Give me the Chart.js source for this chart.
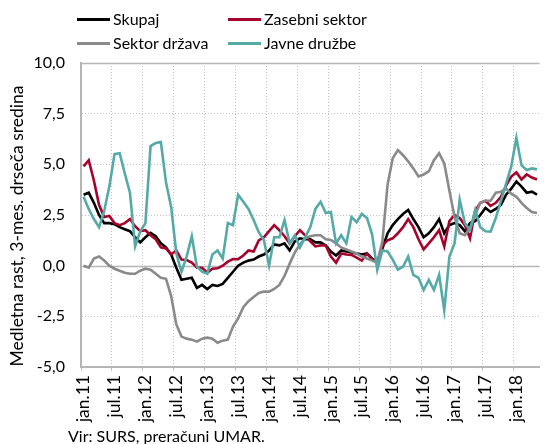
<!DOCTYPE html>
<html>
<head>
<meta charset="utf-8">
<script src="https://cdn.jsdelivr.net/npm/chart.js@4/dist/chart.umd.min.js"></script>
<style>
  html, body { margin:0; padding:0; background:#fff; overflow:hidden; width:559px; height:444px; }
  #wrap { position:relative; width:559px; height:444px; overflow:hidden; font-family: Lato, "Open Sans", sans-serif; color:#000; }
  canvas { position:absolute; left:0; top:0; }
  .leg { position:absolute; font-size:16px; line-height:16px; white-space:nowrap; }
  .leg span.sw { display:inline-block; width:33px; height:3px; vertical-align:middle; margin-right:3px; position:relative; top:-1px; }
  #ytitle { position:absolute; left:-158px; top:216px; width:350px; height:20px; line-height:20px; text-align:center;
            transform: rotate(-90deg); transform-origin: 50% 50%; font-size:17.5px; white-space:nowrap; }
  #src { position:absolute; left:68px; top:426px; font-size:16px; white-space:nowrap; }
</style>
</head>
<body>
<div id="wrap">
  <canvas id="c" width="562" height="444"></canvas>
  <div class="leg" style="left:77px;top:11px"><span class="sw" style="background:#000"></span>Skupaj</div>
  <div class="leg" style="left:228px;top:11px"><span class="sw" style="background:#A5032B"></span>Zasebni sektor</div>
  <div class="leg" style="left:77px;top:35px"><span class="sw" style="background:#8A8A8A"></span>Sektor država</div>
  <div class="leg" style="left:228px;top:35px"><span class="sw" style="background:#55AAA8"></span>Javne družbe</div>
  <div id="ytitle">Medletna rast, 3-mes. drseča sredina</div>
  <div id="src">Vir: SURS, preračuni UMAR.</div>
</div>
<script>
// ---- data ----
const monthNames = ['jan','feb','mar','apr','maj','jun','jul','avg','sep','okt','nov','dec'];
const startYear = 11;          // jan.11
const nMonths = 89;            // jan.11 .. maj.18
const categories = [];
for (let i = 0; i < nMonths; i++) {
  categories.push(monthNames[i % 12] + '.' + (startYear + Math.floor(i / 12)));
}
const xTickLabels = ['jan.11','jul.11','jan.12','jul.12','jan.13','jul.13','jan.14','jul.14','jan.15','jul.15','jan.16','jul.16','jan.17','jul.17','jan.18'];
const yTickValues = [-5, -2.5, 0, 2.5, 5, 7.5, 10];
const yTickLabels = ['-5,0','-2,5','0,0','2,5','5,0','7,5','10,0'];

const skupaj = [3.5,3.6,3.1,2.5,2.1,2.1,2.05,1.9,1.8,1.7,
  1.4,1.15,1.4,1.62,1.45,1.1,0.9,0.55,-0.1,-0.7,
  -0.65,-0.6,-1.1,-0.95,-1.15,-0.95,-1.0,-0.9,-0.6,-0.3,
  0.0,0.15,0.25,0.3,0.45,0.55,0.75,1.05,1.0,1.1,
  0.75,1.2,1.35,1.3,1.3,1.15,1.15,1.0,0.7,0.5,
  0.75,0.7,0.65,0.6,0.55,0.6,0.35,0.2,0.85,1.6,
  2.0,2.3,2.55,2.75,2.3,1.9,1.4,1.6,1.9,2.3,
  1.6,2.0,2.1,2.0,1.7,2.1,2.2,2.5,2.85,2.65,
  2.8,3.0,3.5,3.8,4.15,3.9,3.6,3.65,3.5];
const zasebni = [4.9,5.2,4.2,3.0,2.4,2.45,2.1,2.0,2.1,2.3,
  1.95,1.7,1.75,1.5,1.3,0.9,0.85,0.55,0.75,0.3,
  0.28,0.15,-0.1,-0.1,-0.35,-0.15,-0.13,0.0,0.2,0.33,
  0.32,0.5,0.75,0.7,1.25,1.4,1.7,2.0,1.75,1.45,
  1.1,1.45,1.75,1.5,1.2,0.95,1.0,1.0,0.45,0.15,
  0.6,0.55,0.53,0.4,0.25,0.6,0.3,0.15,1.0,1.25,
  1.35,1.6,1.9,2.3,1.9,1.3,0.8,1.1,1.4,1.75,
  0.95,2.2,2.5,2.35,2.0,1.35,2.7,3.1,3.2,2.95,
  3.1,3.4,3.95,4.4,4.6,4.25,4.5,4.35,4.25];
const drzava = [0.0,-0.1,0.35,0.45,0.25,0.0,-0.15,-0.25,-0.35,-0.4,
  -0.4,-0.25,-0.15,-0.2,-0.4,-0.6,-0.65,-1.5,-2.9,-3.5,
  -3.6,-3.65,-3.75,-3.6,-3.55,-3.6,-3.8,-3.7,-3.65,-3.0,
  -2.6,-2.05,-1.75,-1.55,-1.35,-1.28,-1.28,-1.15,-0.95,-0.5,
  0.1,0.65,1.05,1.35,1.45,1.5,1.5,1.3,1.27,1.1,
  0.9,0.8,0.7,0.6,0.45,0.35,0.25,0.15,1.2,4.0,
  5.3,5.7,5.45,5.15,4.8,4.4,4.5,4.65,5.2,5.55,
  5.05,3.7,2.4,1.6,1.5,1.85,2.5,3.1,3.2,3.2,
  3.6,3.65,3.8,3.55,3.4,3.1,2.85,2.65,2.6];
const javne = [3.4,2.8,2.3,1.9,2.7,3.9,5.5,5.55,4.55,3.6,
  0.95,1.7,2.1,5.9,6.05,6.1,4.1,2.9,0.6,-0.3,
  0.45,1.45,-0.05,-0.3,-0.4,0.55,0.75,0.35,2.1,2.0,
  3.5,3.15,2.8,2.25,1.65,1.25,0.0,1.4,1.4,2.25,
  1.1,1.5,0.9,1.4,1.9,2.8,3.15,2.6,2.65,1.1,
  1.5,1.1,2.4,2.15,2.55,2.35,1.55,-0.2,0.75,0.7,
  0.3,-0.2,-0.05,0.45,-0.45,-0.6,-1.2,-0.7,-1.2,-0.45,
  -2.2,0.45,1.1,3.25,2.1,1.75,2.75,1.9,1.7,1.68,
  2.35,3.2,4.05,4.9,6.3,4.95,4.72,4.8,4.75];

// ---- chart ----
const GRID = '#c2c2c2';
const AXIS = '#b5b5b5';

const solidLines = {
  id: 'solidLines',
  beforeDatasetsDraw(chart) {
    const {ctx, chartArea, scales} = chart;
    ctx.save();
    ctx.strokeStyle = AXIS;
    ctx.lineWidth = 1.5;
    [0, 10].forEach(v => {
      const y = Math.round(scales.y.getPixelForValue(v)) + 0.5;
      ctx.beginPath();
      ctx.moveTo(chartArea.left, y);
      ctx.lineTo(chartArea.right, y);
      ctx.stroke();
    });
    ctx.restore();
  }
};

const mk = (label, data, color) => ({
  label, data, borderColor: color, backgroundColor: color,
  borderWidth: 2.6, pointRadius: 0, tension: 0, fill: false
});

new Chart(document.getElementById('c'), {
  type: 'line',
  data: {
    labels: categories,
    datasets: [
      mk('Javne družbe', javne, '#55AAA8'),
      mk('Sektor država', drzava, '#8A8A8A'),
      mk('Zasebni sektor', zasebni, '#A5032B'),
      mk('Skupaj', skupaj, '#000000')
    ]
  },
  options: {
    responsive: false,
    animation: false,
    layout: { padding: { top: 63, right: 1, left: 0, bottom: 0 } },
    plugins: { legend: { display: false }, tooltip: { enabled: false } },
    scales: {
      x: {
        type: 'category',
        offset: true,
        afterFit(s) { s.height = 77; },
        grid: {
          offset: true,
          color: c => (c.index % 6 === 0 && c.index > 0) ? GRID : 'rgba(0,0,0,0)',
          lineWidth: 1,
          drawTicks: true,
          tickLength: 4,
          tickColor: c => (c.index % 6 === 0) ? GRID : 'rgba(0,0,0,0)'
        },
        border: { display: true, color: AXIS, width: 2, dash: [1, 2] },
        ticks: {
          autoSkip: false,
          maxRotation: 90, minRotation: 90,
          padding: 4,
          color: '#000',
          font: { family: 'Lato', size: 17.5 },
          callback: function(v, i) {
            const lab = categories[i];
            return xTickLabels.includes(lab) ? lab : '';
          }
        }
      },
      y: {
        min: -5, max: 10,
        afterFit(s) { s.width = 81; },
        afterBuildTicks(s) { s.ticks = yTickValues.map(v => ({ value: v })); },
        grid: {
          color: c => (c.tick && (c.tick.value === 0 || c.tick.value === 10 || c.tick.value === -5)) ? 'rgba(0,0,0,0)' : GRID,
          lineWidth: 1,
          drawTicks: false
        },
        border: { display: true, color: AXIS, width: 2, dash: [1, 2] },
        ticks: {
          padding: 16,
          color: '#000',
          font: { family: 'Lato', size: 16 },
          callback: v => yTickLabels[yTickValues.indexOf(v)]
        }
      }
    }
  },
  plugins: [solidLines]
});
</script>
</body>
</html>
